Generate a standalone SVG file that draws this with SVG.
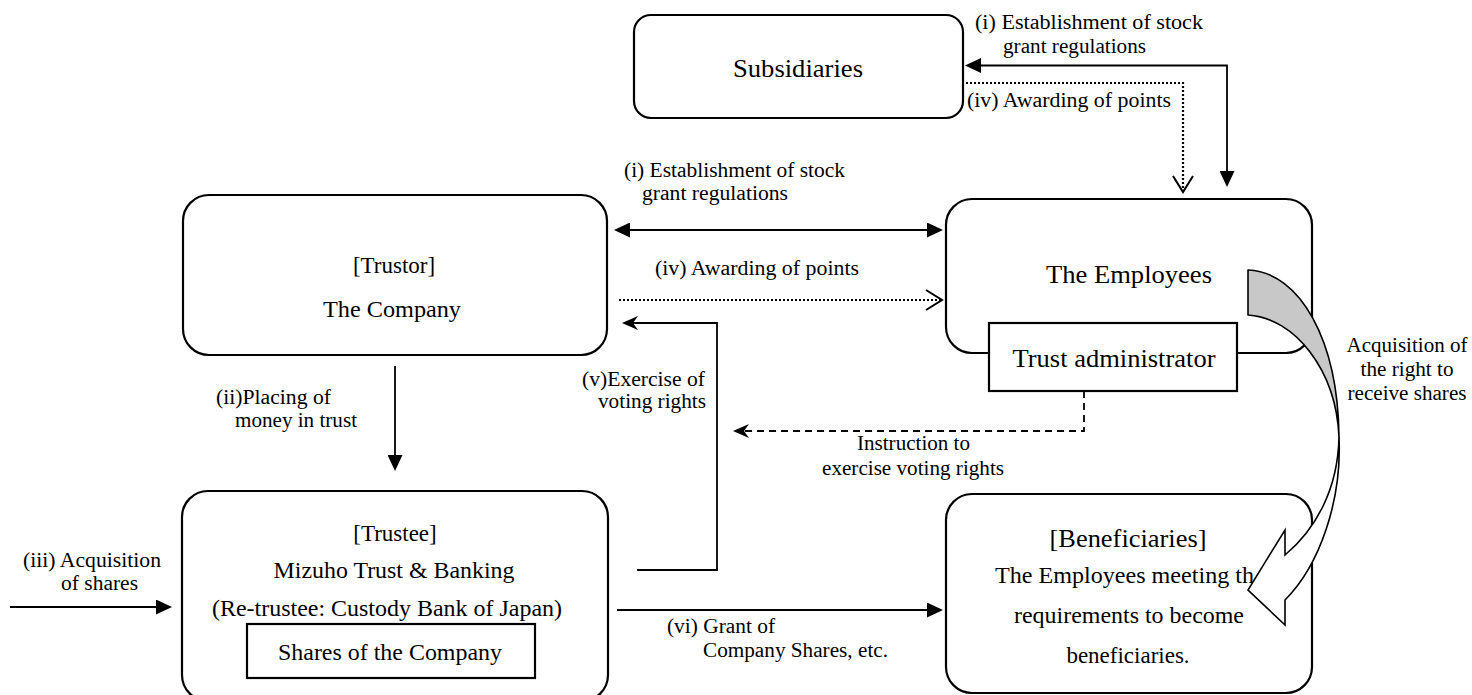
<svg xmlns="http://www.w3.org/2000/svg" width="1472" height="695" viewBox="0 0 1472 695">
<style>
text{font-family:"Liberation Serif","Times New Roman",serif;fill:#000}
.bx{fill:#fff;stroke:#000;stroke-width:2.2}
.t24{font-size:23px}
.t26{font-size:25px}
.lb{font-size:20px}
.c{text-anchor:middle}
.ln{fill:none;stroke:#000;stroke-width:1.8}
.dot{stroke-dasharray:2 2;stroke-width:2.2}
.dash{stroke-dasharray:7 5}
</style>
<defs>
<marker id="tri" viewBox="0 0 16 15" refX="13" refY="7.5" markerWidth="16" markerHeight="15" markerUnits="userSpaceOnUse" orient="auto-start-reverse"><path d="M0,0 L16,7.5 L0,15 Z" fill="#000"/></marker>
<marker id="open" viewBox="-2 -2 20 24" refX="16" refY="10" markerWidth="20" markerHeight="24" markerUnits="userSpaceOnUse" orient="auto"><path d="M0,0 L16,10 L0,20" fill="none" stroke="#000" stroke-width="2"/></marker>
<marker id="notch" viewBox="0 0 16 14" refX="13" refY="7" markerWidth="16" markerHeight="14" markerUnits="userSpaceOnUse" orient="auto"><path d="M0,0 L16,7 L0,14 L5,7 Z" fill="#000"/></marker>
</defs>

<g id="subsidiaries">
<rect class="bx" x="634" y="15" width="329" height="103" rx="17"/>
<text class="t26 c" x="798" y="77" textLength="130" lengthAdjust="spacingAndGlyphs">Subsidiaries</text>
</g>

<g id="trustor">
<rect class="bx" x="183" y="195" width="424" height="160" rx="26"/>
<text class="t24 c" x="394" y="273">[Trustor]</text>
<text class="t24 c" x="392" y="317" textLength="138" lengthAdjust="spacingAndGlyphs">The Company</text>
</g>

<g id="employees">
<rect class="bx" x="946" y="199" width="366" height="154" rx="26"/>
<text class="t26 c" x="1129" y="283" textLength="166" lengthAdjust="spacingAndGlyphs">The Employees</text>
</g>

<g id="trust-administrator">
<rect class="bx" x="989" y="323" width="248" height="68"/>
<text class="t26 c" x="1114" y="367" textLength="203" lengthAdjust="spacingAndGlyphs">Trust administrator</text>
</g>

<g id="trustee">
<rect class="bx" x="182" y="491" width="426" height="210" rx="26"/>
<text class="t24 c" x="395" y="541">[Trustee]</text>
<text class="t24 c" x="394" y="578" textLength="241" lengthAdjust="spacingAndGlyphs">Mizuho Trust &amp; Banking</text>
<text class="t24 c" x="387" y="616" textLength="350" lengthAdjust="spacingAndGlyphs">(Re-trustee: Custody Bank of Japan)</text>
</g>

<g id="shares-of-the-company">
<rect class="bx" x="247" y="624" width="288" height="54"/>
<text class="t24 c" x="390" y="660" textLength="224" lengthAdjust="spacingAndGlyphs">Shares of the Company</text>
</g>

<g id="beneficiaries">
<rect class="bx" x="946" y="494" width="366" height="199" rx="26"/>
<text class="t26 c" x="1128" y="547" textLength="157" lengthAdjust="spacingAndGlyphs">[Beneficiaries]</text>
<text class="t24" x="995" y="583" textLength="259" lengthAdjust="spacingAndGlyphs">The Employees meeting th</text>
<text class="t24 c" x="1129" y="623" textLength="230" lengthAdjust="spacingAndGlyphs">requirements to become</text>
<text class="t24 c" x="1128" y="663">beneficiaries.</text>
</g>

<g id="connectors">
<path class="ln" d="M968 65.5 H1227 V184" marker-start="url(#tri)" marker-end="url(#tri)"/>
<path class="ln dot" d="M966 83 H1183 V192" marker-end="url(#open)"/>
<path class="ln" d="M617 230 H940" marker-start="url(#tri)" marker-end="url(#tri)"/>
<path class="ln dot" d="M619 300 H942" marker-end="url(#open)"/>
<path class="ln" d="M637 570 H717 V323 H625" marker-end="url(#notch)"/>
<path class="ln" d="M395 366 V468" marker-end="url(#tri)"/>
<path class="ln" d="M10 607 H169" marker-end="url(#tri)"/>
<path class="ln" d="M617 610 H940" marker-end="url(#tri)"/>
<path class="ln dash" d="M1084 391 V431 H736" marker-end="url(#notch)"/>
</g>

<g id="curved-arrow">
<path d="M1248 270 C1300 272,1338 340,1339 437 C1336 370,1295 318,1248 315 Z" fill="#c8c8c8" stroke="#000" stroke-width="1.6" stroke-linejoin="round"/>
<path d="M1339 437 C1342 500,1320 565,1285 600 L1285 625 L1248 590 L1285 530 L1285 555 C1315 530,1338 490,1339 437 Z" fill="#fff" stroke="#000" stroke-width="1.6" stroke-linejoin="miter"/>
</g>

<g id="labels">
<text class="lb" x="975" y="29" textLength="228" lengthAdjust="spacingAndGlyphs">(i) Establishment of stock</text>
<text class="lb" x="1003" y="53" textLength="143" lengthAdjust="spacingAndGlyphs">grant regulations</text>
<text class="lb" x="967" y="107" textLength="204" lengthAdjust="spacingAndGlyphs">(iv) Awarding of points</text>
<text class="lb" x="624" y="177" textLength="221" lengthAdjust="spacingAndGlyphs">(i) Establishment of stock</text>
<text class="lb" x="642" y="200" textLength="146" lengthAdjust="spacingAndGlyphs">grant regulations</text>
<text class="lb" x="655" y="275" textLength="204" lengthAdjust="spacingAndGlyphs">(iv) Awarding of points</text>
<text class="lb" x="582" y="386" textLength="123" lengthAdjust="spacingAndGlyphs">(v)Exercise of</text>
<text class="lb" x="598" y="408" textLength="108" lengthAdjust="spacingAndGlyphs">voting rights</text>
<text class="lb" x="216" y="404" textLength="115" lengthAdjust="spacingAndGlyphs">(ii)Placing of</text>
<text class="lb" x="235" y="427" textLength="122" lengthAdjust="spacingAndGlyphs">money in trust</text>
<text class="lb" x="23" y="567" textLength="138" lengthAdjust="spacingAndGlyphs">(iii) Acquisition</text>
<text class="lb" x="61" y="590" textLength="77" lengthAdjust="spacingAndGlyphs">of shares</text>
<text class="lb" x="667" y="633" textLength="108" lengthAdjust="spacingAndGlyphs">(vi) Grant of</text>
<text class="lb" x="703" y="657" textLength="185" lengthAdjust="spacingAndGlyphs">Company Shares, etc.</text>
<text class="lb" x="857" y="450" textLength="113" lengthAdjust="spacingAndGlyphs">Instruction to</text>
<text class="lb" x="822" y="475" textLength="182" lengthAdjust="spacingAndGlyphs">exercise voting rights</text>
<text class="lb c" x="1407" y="352" textLength="121" lengthAdjust="spacingAndGlyphs">Acquisition of</text>
<text class="lb c" x="1407" y="376" textLength="93" lengthAdjust="spacingAndGlyphs">the right to</text>
<text class="lb c" x="1407" y="400" textLength="119" lengthAdjust="spacingAndGlyphs">receive shares</text>
</g>
</svg>
